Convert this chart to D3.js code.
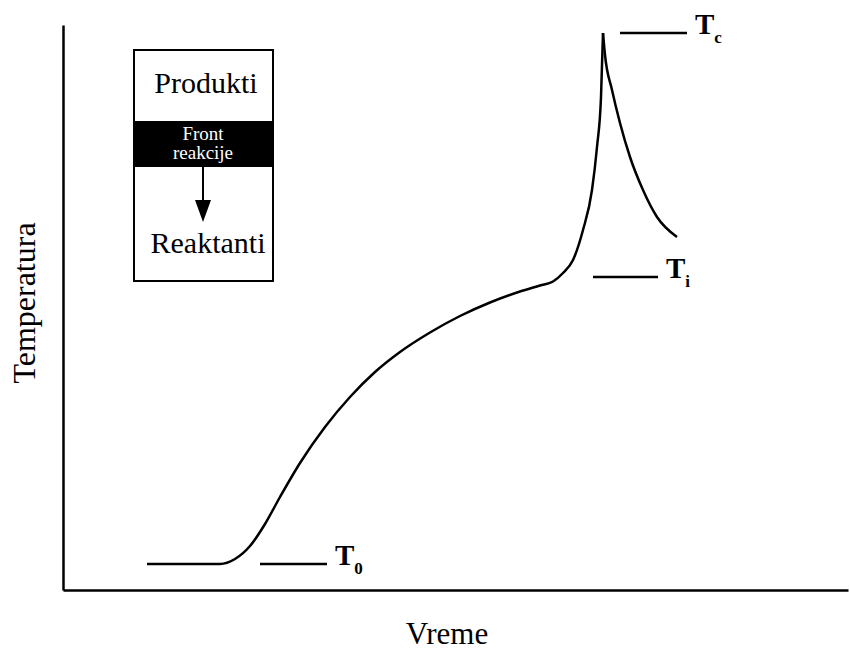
<!DOCTYPE html>
<html>
<head>
<meta charset="utf-8">
<script src="https://cdn.jsdelivr.net/npm/d3@7"></script>
<style>
  body { margin: 0; background: #fff; }
  svg text { font-family: "Liberation Serif", Tinos, "Times New Roman", Times, "DejaVu Serif", serif; }
</style>
</head>
<body>
<script>
// heating curve of the reaction front (arbitrary units)
const riseTime = [16.8, 31.4, 34.4, 37.4, 40.4, 43.4, 47.4, 52.4, 57.4, 62.4, 67.4, 73.4, 79.4, 85.4, 91.4, 95.4, 98, 100, 102, 104, 105.8, 106.8, 107.6, 108];
const riseTemp = [5.2, 5.2, 6.2, 8.8, 13.2, 18.6, 25.4, 32.6, 38.6, 43.6, 47.6, 51.5, 54.8, 57.5, 59.7, 60.9, 61.7, 63.4, 66, 72, 80, 88.6, 98.6, 111.4];
const decayTime = [108, 108.4, 109.8, 111.4, 113.4, 116, 118.8, 122.8];
const decayTemp = [111.4, 107, 100, 93.4, 86.6, 80, 74.6, 70.6];

// temperature level markers T0, Ti, Tc
const levelSub = ["0", "i", "c"];
const levelTemp = [5.2, 62.6, 111.4];
const levelStart = [39.4, 106, 111.4];
const levelEnd = [52.8, 119, 124.8];

const width = 850, height = 650;

const svg = d3.select("body").append("svg")
    .attr("width", width).attr("height", height);

const x = d3.scaleLinear().domain([0, 157]).range([63, 848]);
const y = d3.scaleLinear().domain([0, 113]).range([590, 25]);

// axes without ticks
svg.append("g")
    .attr("transform", `translate(0,${y(0)})`)
    .call(d3.axisBottom(x).tickValues([]).tickSizeOuter(0))
    .select(".domain").attr("stroke-width", 2.5);

svg.append("g")
    .attr("transform", `translate(${x(0)},0)`)
    .call(d3.axisLeft(y).tickValues([]).tickSizeOuter(0))
    .select(".domain").attr("stroke-width", 2.5);

svg.append("text")
    .attr("x", 447).attr("y", 644)
    .attr("text-anchor", "middle")
    .attr("font-size", 31)
    .text("Vreme");

svg.append("text")
    .attr("transform", "translate(35,303) rotate(-90)")
    .attr("text-anchor", "middle")
    .attr("font-size", 32)
    .text("Temperatura");

// curve, drawn in two pieces so the peak stays sharp
const line = d3.line()
    .x(d => x(d[0]))
    .y(d => y(d[1]))
    .curve(d3.curveMonotoneX);

const rise = riseTime.map((t, i) => [t, riseTemp[i]]);
const decay = decayTime.map((t, i) => [t, decayTemp[i]]);

[rise, decay].forEach(pts => {
    svg.append("path")
        .datum(pts)
        .attr("d", line)
        .attr("fill", "none")
        .attr("stroke", "#000")
        .attr("stroke-width", 2.5);
});

// level markers
const levels = levelSub.map((s, i) => ({ sub: s, t: levelTemp[i], a: levelStart[i], b: levelEnd[i] }));

svg.selectAll(".lvl")
    .data(levels)
    .enter().append("line")
    .attr("class", "lvl")
    .attr("x1", d => x(d.a)).attr("x2", d => x(d.b))
    .attr("y1", d => y(d.t)).attr("y2", d => y(d.t))
    .attr("stroke", "#000")
    .attr("stroke-width", 2.5);

const lab = svg.selectAll(".lab")
    .data(levels)
    .enter().append("text")
    .attr("class", "lab")
    .attr("x", d => x(d.b) + 8)
    .attr("y", d => y(d.t) + 1)
    .attr("font-weight", "bold")
    .attr("font-size", 29);

lab.append("tspan").text("T");
lab.append("tspan")
    .attr("dy", 9)
    .attr("font-size", 17)
    .text(d => d.sub);

// inset schematic
const box = svg.append("g");
box.append("rect")
    .attr("x", 134).attr("y", 50)
    .attr("width", 139).attr("height", 231)
    .attr("fill", "#fff").attr("stroke", "#000").attr("stroke-width", 2);
box.append("rect")
    .attr("x", 134).attr("y", 121)
    .attr("width", 139).attr("height", 46)
    .attr("fill", "#000");
box.append("text")
    .attr("x", 206).attr("y", 93)
    .attr("text-anchor", "middle").attr("font-size", 30)
    .text("Produkti");
box.append("text")
    .attr("x", 203).attr("y", 140)
    .attr("text-anchor", "middle").attr("font-size", 19).attr("fill", "#fff")
    .text("Front");
box.append("text")
    .attr("x", 203).attr("y", 159)
    .attr("text-anchor", "middle").attr("font-size", 19).attr("fill", "#fff")
    .text("reakcije");
box.append("line")
    .attr("x1", 203).attr("x2", 203)
    .attr("y1", 167).attr("y2", 208)
    .attr("stroke", "#000").attr("stroke-width", 2);
box.append("path")
    .attr("d", "M195,200 L211,200 L203,222 Z")
    .attr("fill", "#000");
box.append("text")
    .attr("x", 208).attr("y", 253)
    .attr("text-anchor", "middle").attr("font-size", 30)
    .text("Reaktanti");
</script>
</body>
</html>
